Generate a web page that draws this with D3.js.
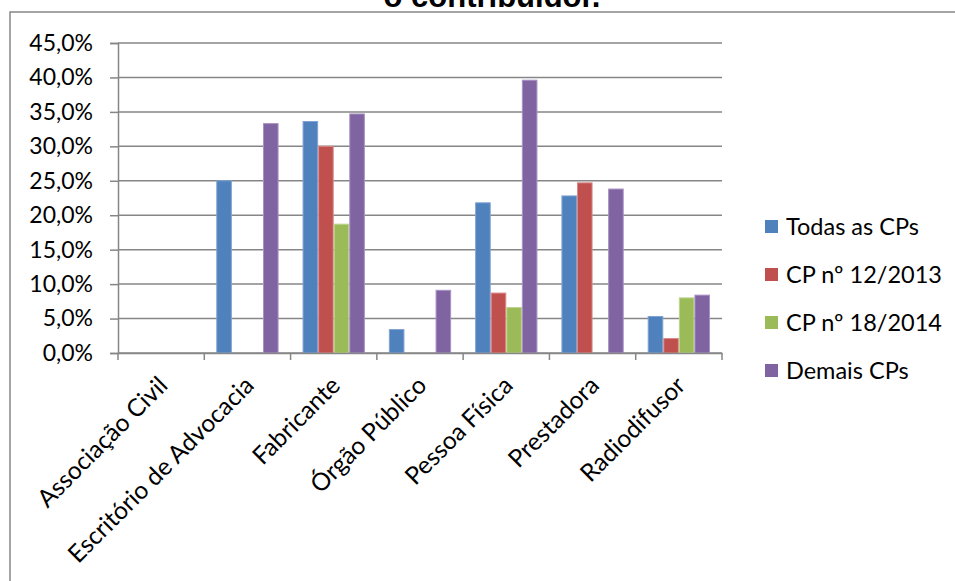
<!DOCTYPE html>
<html><head><meta charset="utf-8">
<script src="https://cdn.jsdelivr.net/npm/d3@7"></script>
<style>
html,body{margin:0;padding:0;background:#fff;overflow:hidden;}
svg{display:block;}
</style></head>
<body>
<svg id="chart" width="955" height="581"></svg>
<script>
const categories = ["Associação Civil","Escritório de Advocacia","Fabricante","Órgão Público","Pessoa Física","Prestadora","Radiodifusor"];
const seriesNames = ["Todas as CPs","CP nº 12/2013","CP nº 18/2014","Demais CPs"];
const todasCPs = [0, 25.0, 33.6, 3.4, 21.8, 22.8, 5.3];
const cp12_2013 = [0, 0, 30.0, 0, 8.7, 24.7, 2.1];
const cp18_2014 = [0, 0, 18.7, 0, 6.6, 0, 8.0];
const demaisCPs = [0, 33.3, 34.7, 9.1, 39.6, 23.8, 8.4];
const yTicks = [0,5,10,15,20,25,30,35,40,45];
const titleText = "o contribuidor.";

const seriesValues = [todasCPs, cp12_2013, cp18_2014, demaisCPs];
const colors = ["#4F81BD","#C0504D","#9BBB59","#8064A2"];
const strokes = ["#7EA3D3","#D98A88","#BDD48E","#A892C2"];

const svg = d3.select("#chart");
const W = 955, H = 581;
const plot = {left:118, right:722, top:43, bottom:353};
const gray = "#868686";
const labelFont = "Lato, 'Open Sans', sans-serif";

// frame
svg.append("rect").attr("x",10).attr("y",12).attr("width",W+20).attr("height",H+20)
  .attr("fill","none").attr("stroke",gray).attr("stroke-width",1.5);

// title (cut off at top, as in the reference)
svg.append("text").attr("x",492).attr("y",7).attr("text-anchor","middle")
  .attr("font-family","'Liberation Sans', Arial, sans-serif").attr("font-weight","bold")
  .attr("font-size",31).attr("fill","#000").text(titleText);

const x0 = d3.scaleBand().domain(categories).range([plot.left, plot.right]).paddingInner(0).paddingOuter(0);
const x1 = d3.scaleBand().domain(seriesNames).range([12, x0.bandwidth()-12]).padding(0);
const y = d3.scaleLinear().domain([0,45]).range([plot.bottom, plot.top]);

// gridlines
svg.append("g").selectAll("line").data(yTicks).join("line")
  .attr("x1",plot.left).attr("x2",plot.right)
  .attr("y1",d=>y(d)).attr("y2",d=>y(d))
  .attr("stroke",gray).attr("stroke-width",1.5);

// bars
const data = [];
categories.forEach((c,i)=>{
  seriesNames.forEach((s,j)=>{
    data.push({cat:c, ser:s, j, v:seriesValues[j][i]});
  });
});
svg.append("g").selectAll("rect").data(data.filter(d=>d.v>0)).join("rect")
  .attr("x",d=>x0(d.cat)+x1(d.ser)+0.5)
  .attr("width",x1.bandwidth()-1)
  .attr("y",d=>y(d.v))
  .attr("height",d=>y(0)-y(d.v))
  .attr("fill",d=>colors[d.j])
  .attr("stroke",d=>strokes[d.j]).attr("stroke-width",1);

// y axis
const yAxis = d3.axisLeft(y).tickValues(yTicks).tickSize(8).tickPadding(17)
  .tickFormat(d=>d3.format(".1f")(d).replace(".",",")+"%");
const gy = svg.append("g").attr("transform",`translate(${plot.left},0)`).call(yAxis);
gy.select(".domain").attr("stroke",gray).attr("stroke-width",1.5);
gy.selectAll(".tick line").attr("stroke",gray).attr("stroke-width",1.5);
gy.selectAll(".tick text").attr("font-family",labelFont).attr("font-size",23).attr("fill","#000");

// x axis
const xAxis = d3.axisBottom(x0).tickSize(0).tickFormat("");
const gx = svg.append("g").attr("transform",`translate(0,${plot.bottom})`).call(xAxis);
gx.select(".domain").attr("stroke",gray).attr("stroke-width",1.5);
// category boundary ticks
const bounds = categories.map(c=>x0(c)).concat([plot.right]);
svg.append("g").selectAll("line").data(bounds).join("line")
  .attr("x1",d=>d).attr("x2",d=>d).attr("y1",plot.bottom).attr("y2",plot.bottom+7)
  .attr("stroke",gray).attr("stroke-width",1.5);
// rotated labels
svg.append("g").selectAll("text").data(categories).join("text")
  .attr("transform",d=>`translate(${x0(d)+x0.bandwidth()/2+8},${plot.bottom+34}) rotate(-45)`)
  .attr("text-anchor","end")
  .attr("font-family",labelFont).attr("font-size",24.5).attr("fill","#000")
  .text(d=>d);

// legend
const lg = svg.append("g");
seriesNames.forEach((s,j)=>{
  const cy = 227 + j*48;
  lg.append("rect").attr("x",765).attr("y",cy-7).attr("width",13).attr("height",13).attr("fill",colors[j]);
  lg.append("text").attr("x",786).attr("y",cy).attr("dy","0.35em")
    .attr("font-family",labelFont).attr("font-size",23.5).attr("fill","#000").text(s);
});
</script>
</body></html>
